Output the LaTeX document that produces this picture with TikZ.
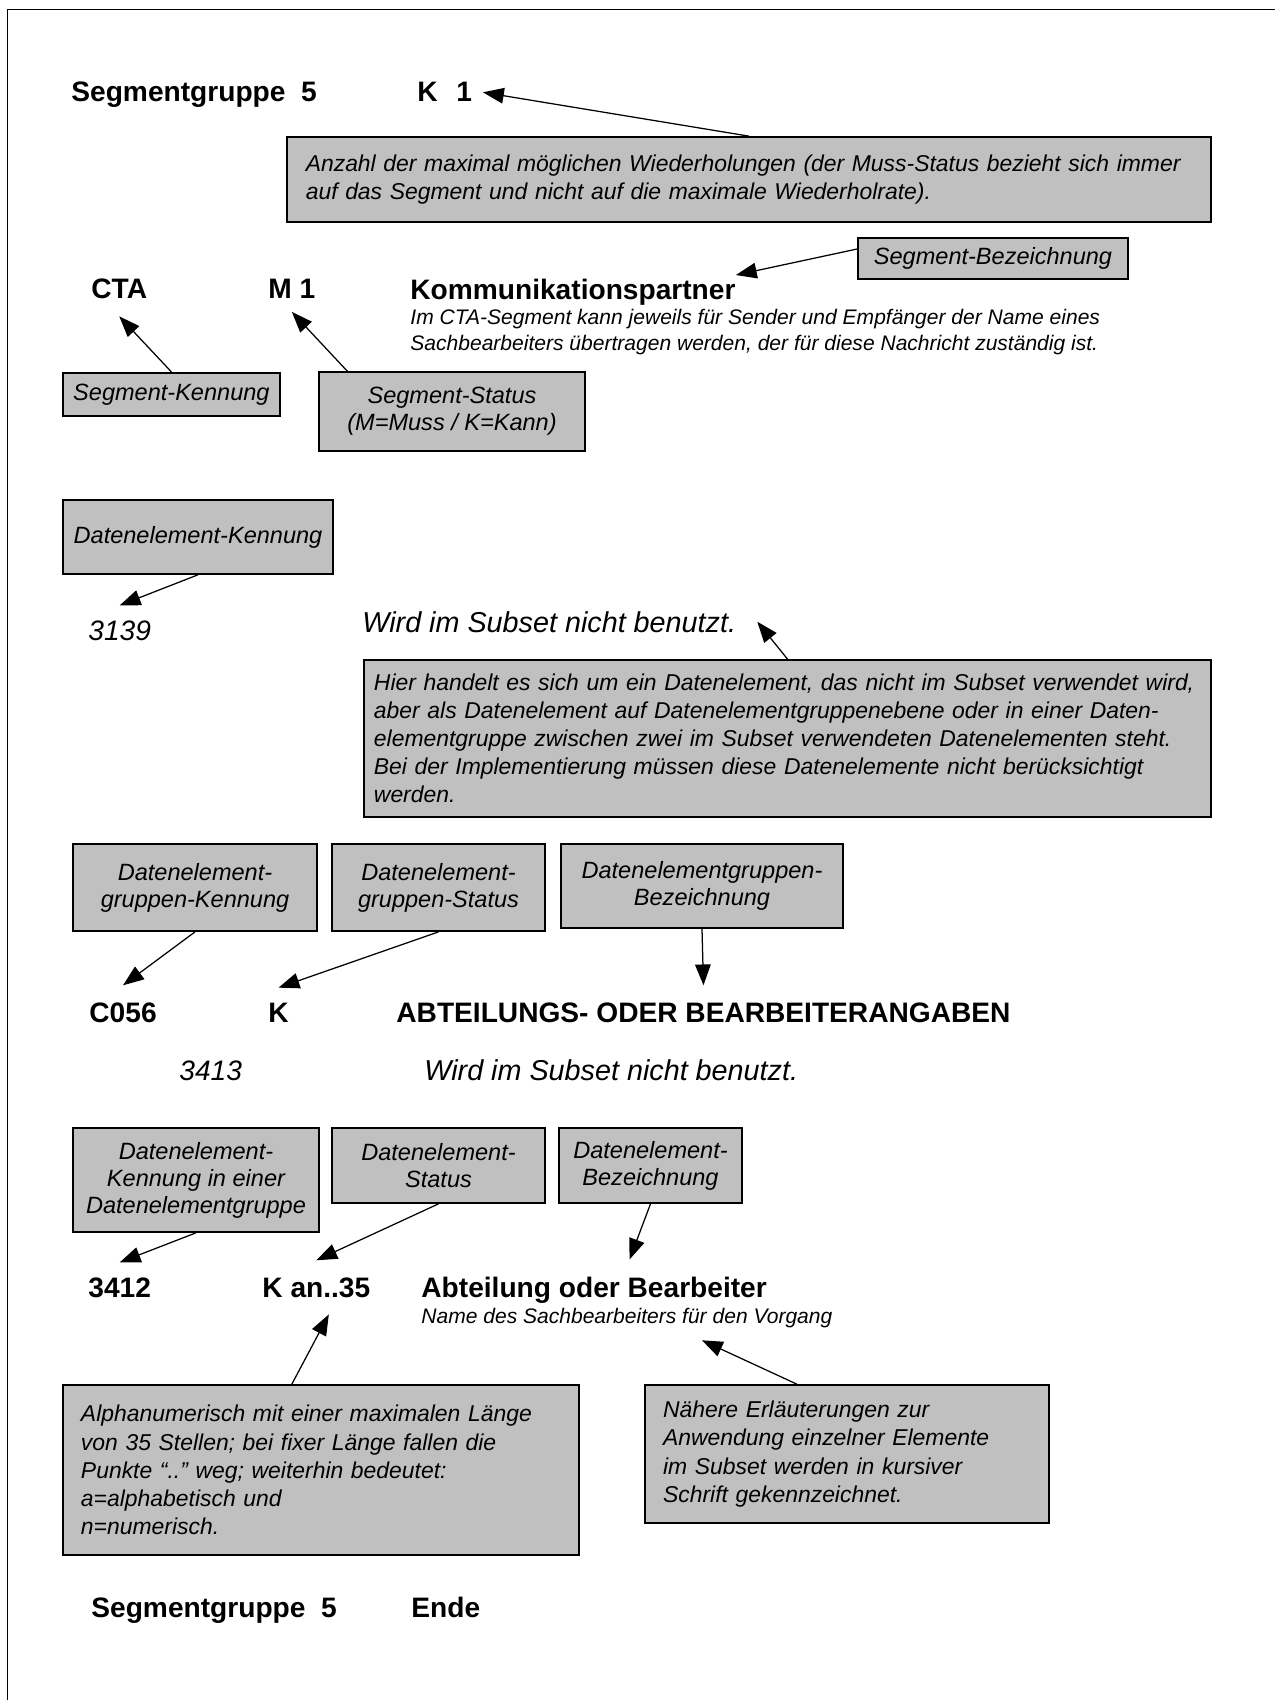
\documentclass[tikz,border=0pt]{standalone}
\usepackage{fontspec}
\setmainfont{Liberation Sans}
\usetikzlibrary{arrows.meta}
\frenchspacing

\definecolor{notegray}{HTML}{C0C0C0}
\newcommand\headfont{\fontsize{13.5}{16}\selectfont\bfseries}
\newcommand\idfont{\fontsize{13.5}{16}\selectfont\itshape}
\newcommand\unusedfont{\fontsize{13.8}{16}\selectfont\itshape}
\newcommand\descfont{\fontsize{10.1}{12.5}\selectfont\itshape}
\newcommand\tagfont{\fontsize{11.3}{13}\selectfont\itshape}
\newcommand\notefont{\fontsize{11}{13.5}\selectfont\itshape}

\begin{document}
\begin{tikzpicture}[x=0.48pt, y=-0.48pt,
    head/.style={anchor=base west, inner sep=0pt, font=\headfont},
    ident/.style={anchor=base west, inner sep=0pt, font=\idfont},
    unused/.style={anchor=base west, inner sep=0pt, font=\unusedfont},
    desc/.style={anchor=base west, inner sep=0pt, font=\descfont, align=left},
    tag/.style={draw, fill=notegray, line width=0.8pt, font=\tagfont, align=center, inner sep=0pt},
    note/.style={draw, fill=notegray, line width=0.8pt, font=\notefont, align=left, inner ysep=0pt, inner xsep=8.64pt},
    pointer/.style={-{Triangle[length=10pt, width=7.5pt]}, line width=0.6pt}]
    \useasboundingbox (0,0) rectangle (1275,1700);
    \draw[line width=0.8pt] (7.5,1700) -- (7.5,9.5) -- (1275,9.5);

    % Nodes
    \node[head] (sgstart) at (71,102) {Segmentgruppe\ \ 5};
    \node[head] (k1) at (417,102) {K\hspace{9pt}1};
    \node[note, text width=425.5pt, inner xsep=9pt, minimum height=40.8pt] (repnote) at (749,179.5)
        {Anzahl der maximal möglichen Wiederholungen (der Muss-Status bezieht sich immer\\
         auf das Segment und nicht auf die maximale Wiederholrate).};
    \node[tag, minimum width=129.6pt, minimum height=19.7pt] (segbez) at (993,258.5) {Segment-Bezeichnung};

    \node[head] (cta) at (91,299) {CTA};
    \node[head] (m1) at (268,299) {M 1};
    \node[head] (komm) at (410,300) {Kommunikationspartner};
    \node[desc] (ctadesc) at (410,351)
        {Im CTA-Segment kann jeweils für Sender und Empfänger der Name eines\\
         Sachbearbeiters übertragen werden, der für diese Nachricht zuständig ist.};
    \node[tag, minimum width=104.3pt, minimum height=20.8pt] (segkenn) at (171.4,394.4) {Segment-Kennung};
    \node[tag, minimum width=127.7pt, minimum height=37.9pt] (segstat) at (452,411.5) {Segment-Status\\(M=Muss / K=Kann)};

    \node[tag, minimum width=129.6pt, minimum height=35.5pt] (dekenn) at (198,537) {Datenelement-Kennung};
    \node[ident] (de3139) at (88,640) {3139};
    \node[unused] (unused1) at (362,632) {Wird im Subset nicht benutzt.};
    \node[note, text width=397pt, inner xsep=4.8pt, minimum height=75.4pt] (notused) at (787.5,738.5)
        {Hier handelt es sich um ein Datenelement, das nicht im Subset verwendet wird,\\
         aber als Datenelement auf Datenelementgruppenebene oder in einer Daten-\\
         elementgruppe zwischen zwei im Subset verwendeten Datenelementen steht.\\
         Bei der Implementierung müssen diese Datenelemente nicht berücksichtigt\\
         werden.};

    \node[tag, minimum width=117.1pt, minimum height=41.8pt] (grpkenn) at (195,887.5) {Datenelement-\\gruppen-Kennung};
    \node[tag, minimum width=102.2pt, minimum height=41.8pt] (grpstat) at (438.5,887.5) {Datenelement-\\gruppen-Status};
    \node[tag, minimum width=135.4pt, minimum height=40.3pt] (grpbez) at (702,886) {Datenelementgruppen-\\Bezeichnung};
    \node[head] (c056) at (89,1022) {C056};
    \node[head] (c056st) at (268,1022) {K};
    \node[head] (c056name) at (396,1022) {ABTEILUNGS- ODER BEARBEITERANGABEN};
    \node[ident] (de3413) at (179,1080) {3413};
    \node[unused] (unused2) at (424,1080) {Wird im Subset nicht benutzt.};

    \node[tag, minimum width=118.1pt, minimum height=49.9pt] (elkenn) at (196,1180) {Datenelement-\\Kennung in einer\\Datenelementgruppe};
    \node[tag, minimum width=102.2pt, minimum height=36pt] (elstat) at (438.5,1165.5) {Datenelement-\\Status};
    \node[tag, minimum width=87.8pt, minimum height=36pt] (elbez) at (650.5,1165.5) {Datenelement-\\Bezeichnung};
    \node[head] (de3412) at (88,1297) {3412};
    \node[head] (de3412st) at (262,1297) {K an..35};
    \node[head] (de3412name) at (421,1297) {Abteilung oder Bearbeiter};
    \node[desc] (de3412desc) at (421,1323) {Name des Sachbearbeiters für den Vorgang};
    \node[note, text width=230.4pt, minimum height=81.6pt] (formatnote) at (321,1470)
        {Alphanumerisch mit einer maximalen Länge\\
         von 35 Stellen; bei fixer Länge fallen die\\
         Punkte “..” weg; weiterhin bedeutet:\\
         a=alphabetisch und\\
         n=numerisch.};
    \node[note, text width=176.6pt, minimum height=66.2pt] (italicnote) at (847,1454)
        {Nähere Erläuterungen zur\\
         Anwendung einzelner Elemente\\
         im Subset werden in kursiver\\
         Schrift gekennzeichnet.};

    \node[head] (sgend) at (91,1617) {Segmentgruppe\ \ 5};
    \node[head] (ende) at (411,1617) {Ende};

    % Arrows
    \draw[pointer] (repnote.north) -- ([xshift=5pt]k1.east);
    \draw[pointer] (segbez.176) -- ([yshift=2pt]komm.north east);
    \draw[pointer] (segkenn.north) -- ([yshift=-8pt]cta.south);
    \draw[pointer] ([xshift=14pt]segstat.north west) -- ([yshift=-6pt]m1.south);
    \draw[pointer] (dekenn.south) -- ([yshift=7pt]de3139.north);
    \draw[pointer] (notused.north) -- ([xshift=10pt]unused1.east);
    \draw[pointer] (grpkenn.south) -- ([yshift=8pt]c056.north);
    \draw[pointer] (grpstat.south) -- ([yshift=7pt]c056st.north);
    \draw[pointer] (grpbez.south) -- ([yshift=8pt]c056name.north);
    \draw[pointer] (elkenn.south) -- ([yshift=7pt]de3412.north);
    \draw[pointer] (elstat.south) -- ([yshift=8pt]de3412st.north);
    \draw[pointer] (elbez.south) -- ([xshift=17pt,yshift=8pt]de3412name.north);
    \draw[pointer] ([xshift=-14pt]formatnote.north) -- ([xshift=6pt,yshift=-8pt]de3412st.south);
    \draw[pointer] ([xshift=-24pt]italicnote.north) -- ([xshift=36pt,yshift=-6pt]de3412desc.south);
\end{tikzpicture}
\end{document}
